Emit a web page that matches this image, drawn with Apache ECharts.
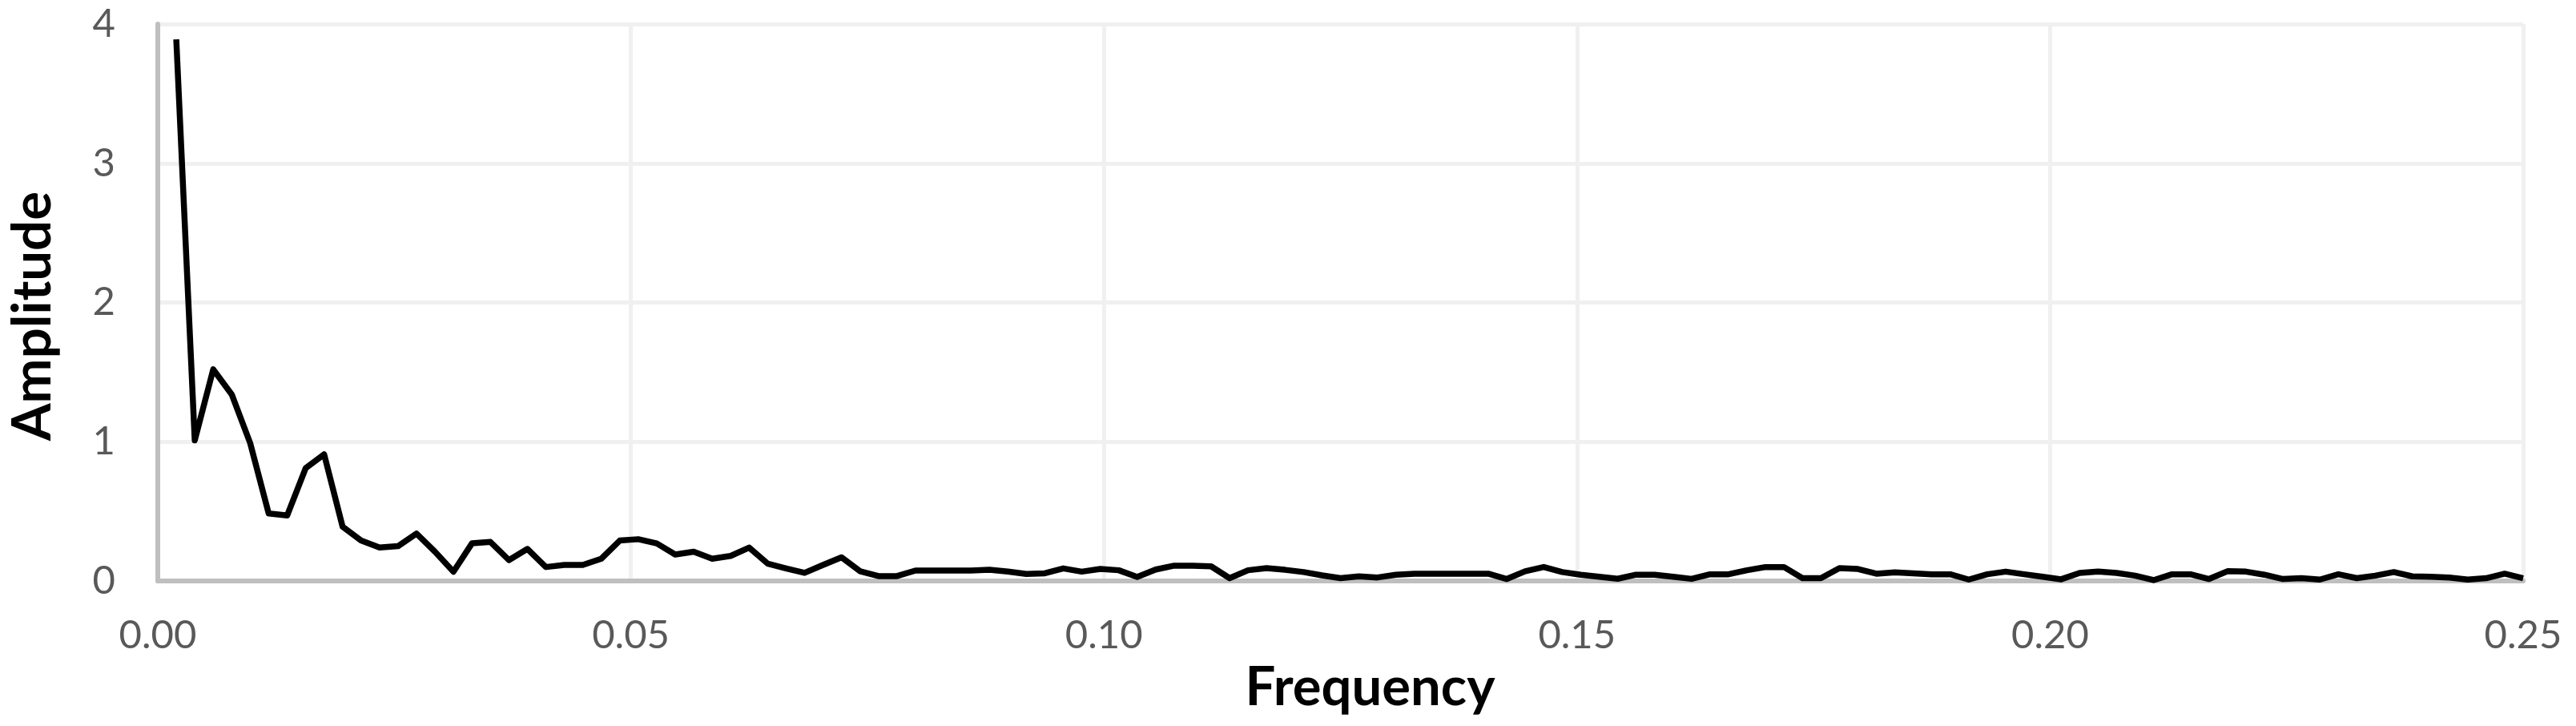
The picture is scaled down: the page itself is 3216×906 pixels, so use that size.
<!DOCTYPE html>
<html>
<head>
<meta charset="utf-8">
<script src="https://cdn.jsdelivr.net/npm/echarts@6/dist/echarts.min.js"></script>
<style>
  html, body { margin: 0; padding: 0; background: #fff; }
  #chart { width: 3216px; height: 906px; }
</style>
</head>
<body>
<div id="chart"></div>
<script>
// spectrum bins: bin k sits at frequency k / sampleCount
const sampleCount = 512;
const xTicks = ['0.00', '0.05', '0.10', '0.15', '0.20', '0.25'];
const yTicks = [0, 1, 2, 3, 4];

// amplitude of bins 1..128
const amplitude = [
  3.89, 1.01, 1.52, 1.34, 0.99, 0.485, 0.47, 0.81, 0.91, 0.39,
  0.29, 0.24, 0.25, 0.34, 0.21, 0.066, 0.27, 0.28, 0.15, 0.23,
  0.10, 0.115, 0.115, 0.16, 0.29, 0.30, 0.27, 0.19, 0.21, 0.16,
  0.18, 0.24, 0.125, 0.09, 0.058, 0.115, 0.17, 0.07, 0.035, 0.035,
  0.075, 0.075, 0.075, 0.075, 0.08, 0.068, 0.05, 0.055, 0.09, 0.067,
  0.086, 0.077, 0.029, 0.082, 0.11, 0.11, 0.105, 0.02, 0.077, 0.092,
  0.08, 0.064, 0.04, 0.02, 0.033, 0.025, 0.045, 0.052, 0.052, 0.052,
  0.052, 0.052, 0.014, 0.07, 0.1, 0.064, 0.045, 0.03, 0.016, 0.045,
  0.045, 0.03, 0.015, 0.048, 0.048, 0.077, 0.1, 0.1, 0.02, 0.02,
  0.092, 0.086, 0.052, 0.062, 0.054, 0.048, 0.048, 0.01, 0.048, 0.067,
  0.048, 0.03, 0.012, 0.058, 0.067, 0.058, 0.038, 0.006, 0.048, 0.048,
  0.014, 0.07, 0.067, 0.045, 0.014, 0.02, 0.01, 0.048, 0.02, 0.038,
  0.064, 0.033, 0.03, 0.025, 0.01, 0.02, 0.052, 0.02
];

const points = amplitude.map((a, i) => [(i + 1) / sampleCount, a]);

const chart = echarts.init(document.getElementById('chart'));
const gridLine = { show: true, lineStyle: { color: '#f0f0f0', width: 5 } };
const axisLine = { show: true, lineStyle: { color: '#bfbfbf', width: 6 } };
const tickFont = { fontFamily: 'Lato', fontSize: 49, color: '#595959' };
const nameFont = { fontFamily: 'Lato', fontSize: 67, fontWeight: 'bold', color: '#000' };

chart.setOption({
  animation: false,
  backgroundColor: '#ffffff',
  grid: { left: 195, right: 66, top: 30, bottom: 181 },
  xAxis: {
    type: 'value',
    min: 0,
    max: 0.25,
    interval: 0.05,
    name: 'Frequency',
    nameLocation: 'middle',
    nameGap: 100,
    nameTextStyle: Object.assign({ padding: [0, 0, 0, 74] }, nameFont),
    axisLine: axisLine,
    axisTick: { show: false },
    splitLine: gridLine,
    axisLabel: Object.assign({
      margin: 44,
      formatter: (v) => xTicks[Math.round(v / 0.05)]
    }, tickFont)
  },
  yAxis: {
    type: 'value',
    min: 0,
    max: 4,
    interval: 1,
    name: 'Amplitude',
    nameLocation: 'middle',
    nameGap: 122,
    nameTextStyle: Object.assign({ padding: [0, 34, 0, 0] }, nameFont),
    axisLine: axisLine,
    axisTick: { show: false },
    splitLine: gridLine,
    axisLabel: Object.assign({
      margin: 53,
      formatter: (v) => String(yTicks[Math.round(v)])
    }, tickFont)
  },
  series: [{
    type: 'line',
    data: points,
    symbol: 'none',
    lineStyle: { color: '#000000', width: 7.5, join: 'round' },
    z: 5
  }]
});
</script>
</body>
</html>
